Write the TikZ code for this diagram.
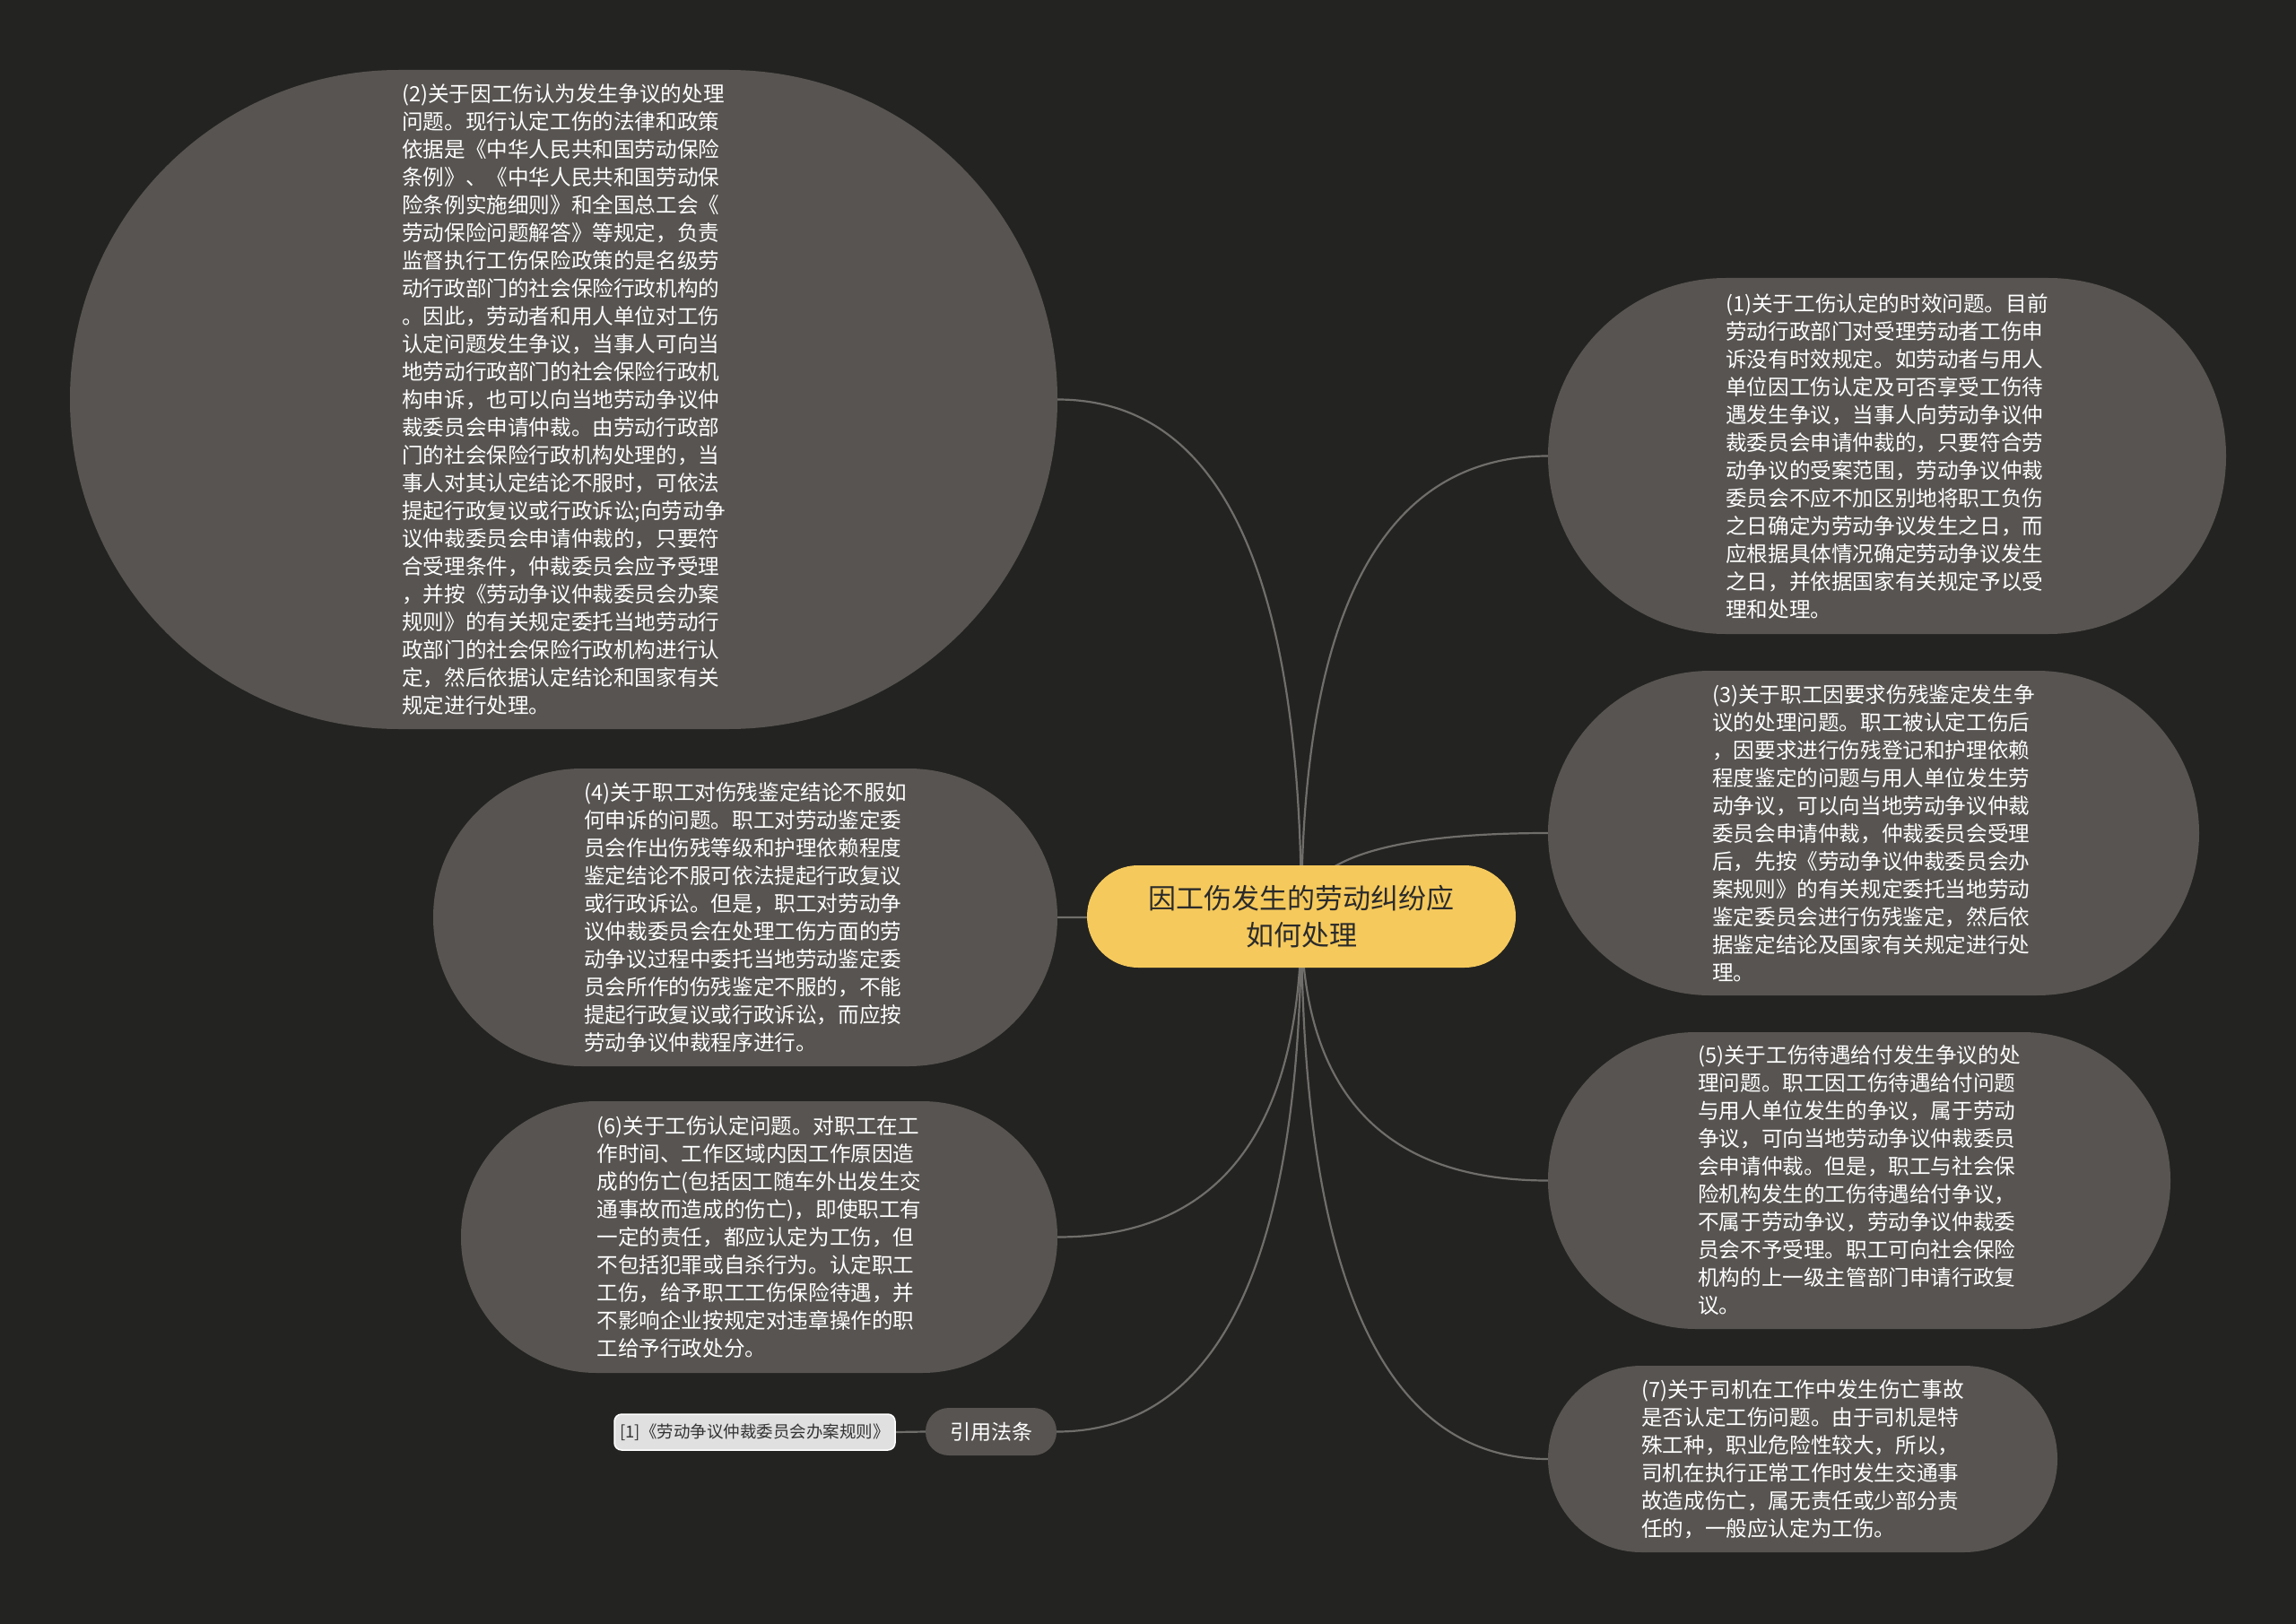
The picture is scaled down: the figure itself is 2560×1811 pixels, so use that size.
\documentclass[tikz,border=0pt]{standalone}
\usepackage{fontspec}
\setmainfont{Noto Sans CJK SC}
\usetikzlibrary{calc}
\definecolor{bgc}{RGB}{35,35,33}
\definecolor{nodegray}{RGB}{87,84,81}
\definecolor{linec}{RGB}{112,110,107}
\definecolor{rootyellow}{RGB}{245,201,92}
\definecolor{roottext}{RGB}{43,43,43}
\definecolor{reffill}{RGB}{224,224,224}
\definecolor{reftext}{RGB}{51,51,51}
\pgfdeclarelayer{bg}
\pgfsetlayers{bg,main}
\begin{document}
\begin{tikzpicture}[x=1pt,y=-1pt,
  leaf/.style={fill=nodegray, text=white, inner sep=0pt, align=left,
    font=\fontsize{23.6}{31}\selectfont},
  rootnode/.style={fill=rootyellow, text=roottext, inner sep=0pt, align=center,
    font=\fontsize{31}{41}\selectfont},
  citebox/.style={fill=nodegray, text=white, inner sep=0pt,
    font=\fontsize{23}{28}\selectfont},
  refbox/.style={fill=reffill, draw=white, line width=1.5pt, text=reftext, inner sep=0pt,
    font=\fontsize{18.5}{22}\selectfont},
  conn/.style={draw=linec, line width=2.2pt}]
\useasboundingbox (0,0) rectangle (2560,1811);

% root
\node[rootnode, minimum width=478pt, minimum height=114pt, rounded corners=57pt] (c) at (1451,1022)
 {因工伤发生的劳动纠纷应\\如何处理};

% (2)
\node[leaf, minimum width=1101pt, minimum height=735pt, rounded corners=367pt] (n2) at (628.5,445.5) {%
(2)关于因工伤认为发生争议的处理\\
问题。现行认定工伤的法律和政策\\
依据是《中华人民共和国劳动保险\\
条例》、《中华人民共和国劳动保\\
险条例实施细则》和全国总工会《\\
劳动保险问题解答》等规定，负责\\
监督执行工伤保险政策的是名级劳\\
动行政部门的社会保险行政机构的\\
。因此，劳动者和用人单位对工伤\\
认定问题发生争议，当事人可向当\\
地劳动行政部门的社会保险行政机\\
构申诉，也可以向当地劳动争议仲\\
裁委员会申请仲裁。由劳动行政部\\
门的社会保险行政机构处理的，当\\
事人对其认定结论不服时，可依法\\
提起行政复议或行政诉讼;向劳动争\\
议仲裁委员会申请仲裁的，只要符\\
合受理条件，仲裁委员会应予受理\\
，并按《劳动争议仲裁委员会办案\\
规则》的有关规定委托当地劳动行\\
政部门的社会保险行政机构进行认\\
定，然后依据认定结论和国家有关\\
规定进行处理。};

% (4)
\node[leaf, minimum width=696pt, minimum height=332pt, rounded corners=166pt] (n4) at (831,1023) {%
(4)关于职工对伤残鉴定结论不服如\\
何申诉的问题。职工对劳动鉴定委\\
员会作出伤残等级和护理依赖程度\\
鉴定结论不服可依法提起行政复议\\
或行政诉讼。但是，职工对劳动争\\
议仲裁委员会在处理工伤方面的劳\\
动争议过程中委托当地劳动鉴定委\\
员会所作的伤残鉴定不服的，不能\\
提起行政复议或行政诉讼，而应按\\
劳动争议仲裁程序进行。};

% (6)
\node[leaf, minimum width=665pt, minimum height=303pt, rounded corners=151pt] (n6) at (846.5,1379.5) {%
(6)关于工伤认定问题。对职工在工\\
作时间、工作区域内因工作原因造\\
成的伤亡(包括因工随车外出发生交\\
通事故而造成的伤亡)，即使职工有\\
一定的责任，都应认定为工伤，但\\
不包括犯罪或自杀行为。认定职工\\
工伤，给予职工工伤保险待遇，并\\
不影响企业按规定对违章操作的职\\
工给予行政处分。};

% cite
\node[citebox, minimum width=146pt, minimum height=53pt, rounded corners=26pt] (cite) at (1105,1596.5) {引用法条};
\node[refbox, minimum width=313pt, minimum height=40pt, rounded corners=8pt] (ref) at (841.5,1597) {[1]《劳动争议仲裁委员会办案规则》};

% (1)
\node[leaf, minimum width=756pt, minimum height=397pt, rounded corners=198pt] (n1) at (2104,508.5) {%
(1)关于工伤认定的时效问题。目前\\
劳动行政部门对受理劳动者工伤申\\
诉没有时效规定。如劳动者与用人\\
单位因工伤认定及可否享受工伤待\\
遇发生争议，当事人向劳动争议仲\\
裁委员会申请仲裁的，只要符合劳\\
动争议的受案范围，劳动争议仲裁\\
委员会不应不加区别地将职工负伤\\
之日确定为劳动争议发生之日，而\\
应根据具体情况确定劳动争议发生\\
之日，并依据国家有关规定予以受\\
理和处理。};

% (3)
\node[leaf, minimum width=726pt, minimum height=362pt, rounded corners=181pt] (n3) at (2089,929) {%
(3)关于职工因要求伤残鉴定发生争\\
议的处理问题。职工被认定工伤后\\
，因要求进行伤残登记和护理依赖\\
程度鉴定的问题与用人单位发生劳\\
动争议，可以向当地劳动争议仲裁\\
委员会申请仲裁，仲裁委员会受理\\
后，先按《劳动争议仲裁委员会办\\
案规则》的有关规定委托当地劳动\\
鉴定委员会进行伤残鉴定，然后依\\
据鉴定结论及国家有关规定进行处\\
理。};

% (5)
\node[leaf, minimum width=694pt, minimum height=331pt, rounded corners=165pt] (n5) at (2073,1316.5) {%
(5)关于工伤待遇给付发生争议的处\\
理问题。职工因工伤待遇给付问题\\
与用人单位发生的争议，属于劳动\\
争议，可向当地劳动争议仲裁委员\\
会申请仲裁。但是，职工与社会保\\
险机构发生的工伤待遇给付争议，\\
不属于劳动争议，劳动争议仲裁委\\
员会不予受理。职工可向社会保险\\
机构的上一级主管部门申请行政复\\
议。};

% (7)
\node[leaf, minimum width=568pt, minimum height=208pt, rounded corners=104pt] (n7) at (2010,1627) {%
(7)关于司机在工作中发生伤亡事故\\
是否认定工伤问题。由于司机是特\\
殊工种，职业危险性较大，所以，\\
司机在执行正常工作时发生交通事\\
故造成伤亡，属无责任或少部分责\\
任的，一般应认定为工伤。};

\begin{pgfonlayer}{bg}
\fill[bgc] (0,0) rectangle (2560,1811);
\foreach \n/\a in {n1/west,n3/west,n5/west,n7/west,n2/east,n4/east,n6/east,cite/east}{
  \coordinate (q) at (c.center|-\n.\a);
  \draw[conn] (c.center) .. controls ($(c.center)!0.6667!(q)$) and ($(\n.\a)!0.6667!(q)$) .. (\n.\a);
}
\draw[conn] (cite.west) -- (ref.east);
\end{pgfonlayer}
\end{tikzpicture}
\end{document}
